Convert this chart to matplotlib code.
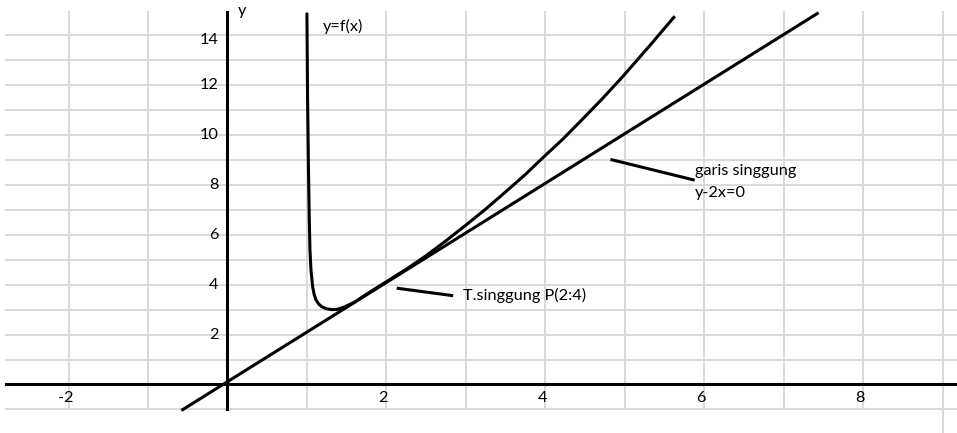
import matplotlib
matplotlib.use('Agg')
import matplotlib.pyplot as plt

# curve y=f(x), points
curve_x = [1.000, 1.008, 1.020, 1.030, 1.038, 1.051, 1.072, 1.090, 1.114, 1.150, 1.186, 1.240,
           1.311, 1.380, 1.458, 1.60, 1.75, 1.98, 2.25, 2.49, 2.75, 2.99, 3.25, 3.49, 3.75,
           3.99, 4.22, 4.44, 4.72, 4.98, 5.32, 5.63]
curve_y = [14.9, 11.5, 8.5, 6.6, 5.39, 4.59, 3.92, 3.62, 3.39, 3.22, 3.12, 3.04,
           3.00, 3.01, 3.09, 3.30, 3.62, 4.08, 4.62, 5.14, 5.76, 6.36, 7.03, 7.69, 8.42,
           9.15, 9.83, 10.54, 11.46, 12.36, 13.60, 14.76]

# tangent line y-2x=0 (end points)
tangent_x = [-0.58, 7.44]
tangent_y = [-1.04, 14.9]

# tick labels
xtick_vals = [-2, 2, 4, 6, 8]
ytick_vals = [2, 4, 6, 8, 10, 12, 14]

# annotation leaders
lead_p_x = [2.13, 2.84]
lead_p_y = [3.86, 3.56]
lead_t_x = [4.82, 5.88]
lead_t_y = [9.02, 8.19]

plt.rcParams['font.family'] = ['Lato', 'DejaVu Sans']

fig = plt.figure(figsize=(9.57, 4.33), dpi=100)
ax = fig.add_axes([0, 0, 1, 1])
ax.set_xlim(-2.863, 9.182)
ax.set_ylim(-1.944, 15.41)
ax.axis('off')

grid_c = '#d9d9d9'
# spreadsheet-like grid
for gy in range(-1, 15):
    ax.plot([-2.79, 9.182], [gy, gy], color=grid_c, lw=1.4, zorder=1)
for gx in range(-2, 10):
    if gx == 0:
        continue
    bottom = -1.944 if gx == 9 else -1
    ax.plot([gx, gx], [bottom, 14.93], color=grid_c, lw=1.4, zorder=1)

# axes
ax.plot([-2.79, 9.182], [0, 0], color='black', lw=2.2, zorder=3)
ax.plot([0, 0], [-1, 14.93], color='black', lw=2.2, zorder=3)

# curve and tangent
ax.plot(curve_x, curve_y, color='black', lw=2.2, zorder=4,
        solid_capstyle='butt', solid_joinstyle='round')
ax.plot(tangent_x, tangent_y, color='black', lw=2.2, zorder=4, solid_capstyle='butt')

# leaders
ax.plot(lead_p_x, lead_p_y, color='black', lw=2.2, zorder=4, solid_capstyle='butt')
ax.plot(lead_t_x, lead_t_y, color='black', lw=2.2, zorder=4, solid_capstyle='butt')

fs = 11.7
for v in xtick_vals:
    ax.text(v - 0.04, -0.54, str(v), ha='center', va='center', fontsize=fs)
for v in ytick_vals:
    yy = 13.8 if v == 14 else v
    ax.text(-0.11, yy, str(v), ha='right', va='center', fontsize=fs)

ax.text(0.13, 14.98, 'y', ha='left', va='center', fontsize=fs)
ax.text(1.2, 14.35, 'y=f(x)', ha='left', va='center', fontsize=fs)
ax.text(2.96, 3.58, 'T.singgung P(2:4)', ha='left', va='center', fontsize=fs)
ax.text(5.88, 8.57, 'garis singgung', ha='left', va='center', fontsize=fs)
ax.text(5.88, 7.69, 'y-2x=0', ha='left', va='center', fontsize=fs)

fig.savefig('out.png', dpi=100)
